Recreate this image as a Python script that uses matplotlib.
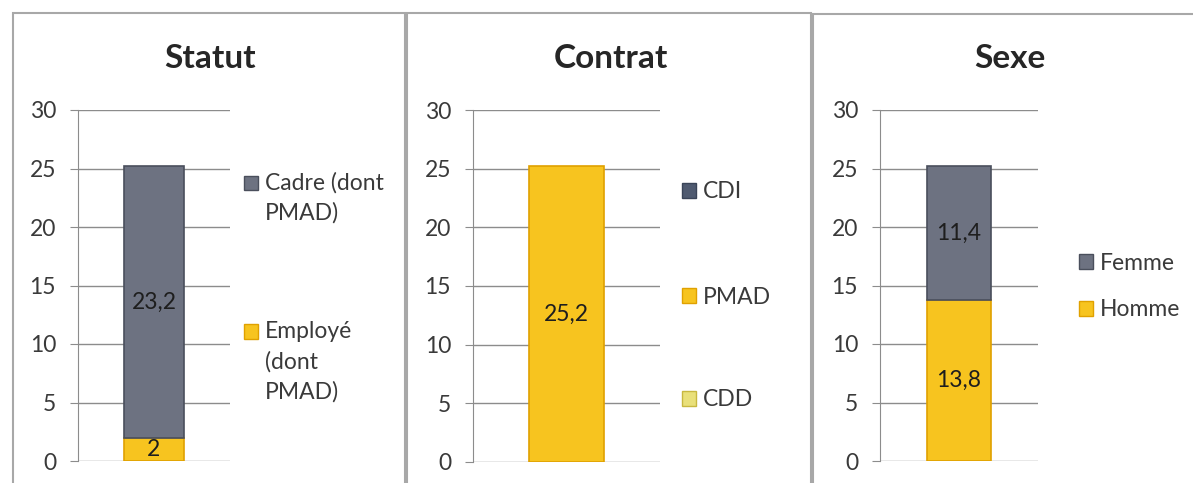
import matplotlib
matplotlib.use("Agg")
import matplotlib.pyplot as plt
from matplotlib.patches import Rectangle, Patch
from matplotlib.legend_handler import HandlerPatch

plt.rcParams['font.family'] = ['Lato', 'DejaVu Sans']

W, H = 1193, 483

# ---- data ----
titles = ["Statut", "Contrat", "Sexe"]
statut_labels = ["Employé\n(dont\nPMAD)", "Cadre (dont\nPMAD)"]
statut_values = [2.0, 23.2]
contrat_labels = ["CDD", "PMAD", "CDI"]
contrat_values = [0.0, 25.2, 0.0]
sexe_labels = ["Homme", "Femme"]
sexe_values = [13.8, 11.4]
yticks = [0, 5, 10, 15, 20, 25, 30]

GRAY = "#6d7281"
GRAY_EDGE = "#4a4f5c"
YEL = "#f7c41f"
YEL_EDGE = "#e0a100"

FS = 16.5
LINE_PT = 31 * 72 / 100  # legend line pitch in points
LSP = 1.5

fig = plt.figure(figsize=(W / 100, H / 100), dpi=100)
fig.patch.set_facecolor("white")

def px_axes(x0, x1, ytop, ybot):
    return fig.add_axes([x0 / W, (H - ybot) / H, (x1 - x0) / W, (ybot - ytop) / H])

def make_handler(nlines):
    shift = (nlines - 1) / 2 * LINE_PT
    def pf(legend, orig_handle, xdescent, ydescent, width, height, fontsize):
        return Rectangle((-xdescent, -ydescent + shift), width, height)
    return HandlerPatch(patch_func=pf)

# panel borders
for (x0, x1, yt) in [(13, 405, 13), (407, 811, 13), (813, 1260, 14)]:
    fig.add_artist(Rectangle((x0 / W, -0.2), (x1 - x0) / W, 1.2 - yt / H,
                             transform=fig.transFigure, fill=False,
                             edgecolor="#a8a8a8", lw=1.5))

panels = [
    dict(ax=(78, 230, 110, 461), labels=statut_labels, values=statut_values,
         colors=[YEL, GRAY], edges=[YEL_EDGE, GRAY_EDGE],
         leg=[(244, 362), (244, 198)], title_x=210),
    dict(ax=(473, 660, 110, 462), labels=contrat_labels, values=contrat_values,
         colors=["#e9e07a", YEL, "#4f5a70"], edges=["#c8b840", YEL_EDGE, "#3a4458"],
         leg=[(682, 400), (682, 297), (682, 192)], title_x=611),
    dict(ax=(880, 1038, 110, 461), labels=sexe_labels, values=sexe_values,
         colors=[YEL, GRAY], edges=[YEL_EDGE, GRAY_EDGE],
         leg=[(1079, 310), (1079, 263)], title_x=1010),
]

for t, p in zip(titles, panels):
    ax = px_axes(*p["ax"])
    bottom = 0.0
    handles = []
    for lab, v, c, ec in zip(p["labels"], p["values"], p["colors"], p["edges"]):
        if v > 0:
            ax.bar([0], [v], width=0.4, bottom=bottom, color=c, edgecolor=ec, lw=1.2, zorder=3)
            ax.text(0, bottom + v / 2, f"{v:g}".replace(".", ","),
                    ha="center", va="center", fontsize=FS, color="#1e1e1e", zorder=4)
        bottom += v
        handles.append(Patch(facecolor=c, edgecolor=ec, label=lab))
    ax.set_xlim(-0.5, 0.5)
    ax.set_ylim(0, 30)
    ax.set_yticks(yticks)
    ax.set_xticks([])
    ax.grid(axis="y", color="#8c8c8c", lw=1.0, zorder=0)
    for s in ["top", "right", "bottom"]:
        ax.spines[s].set_visible(False)
    ax.spines["left"].set_color("#8c8c8c")
    ax.tick_params(axis="y", length=5.8, color="#8c8c8c", labelsize=FS,
                   labelcolor="#3a3a3a", pad=10)
    ax.set_facecolor("none")
    fig.text(p["title_x"] / W, 1 - 58 / H, t, ha="center", va="center",
             fontsize=24, fontweight="bold", color="#262626")
    for h, (lx, ly) in zip(handles, p["leg"]):
        n = h.get_label().count("\n") + 1
        leg = fig.legend(handles=[h], loc="center left",
                         bbox_to_anchor=(lx / W, 1 - ly / H), frameon=False,
                         fontsize=FS, handlelength=0.6, handleheight=0.6,
                         handletextpad=0.3, borderpad=0, borderaxespad=0,
                         labelcolor="#3a3a3a",
                         handler_map={h: make_handler(n)})
        for txt in leg.get_texts():
            txt.set_linespacing(LSP)

fig.savefig("out.png", dpi=100)
